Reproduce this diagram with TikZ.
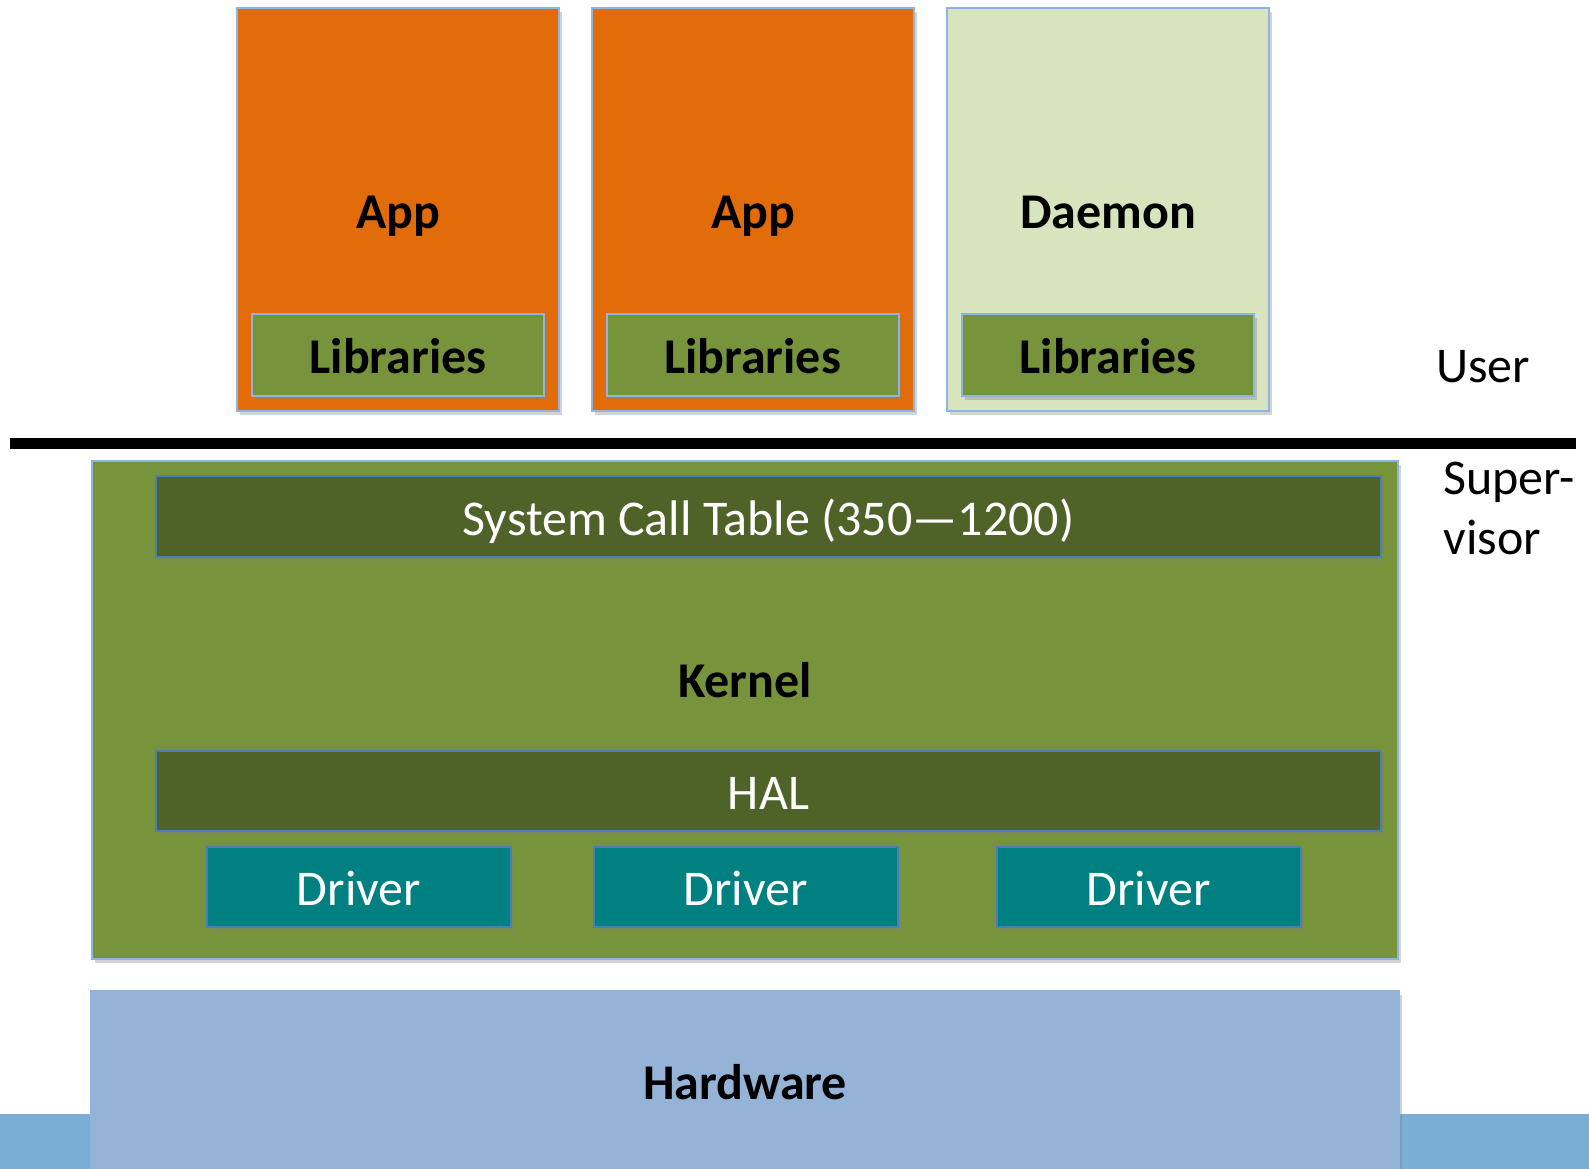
\documentclass[tikz,border=0pt]{standalone}
\usepackage{fontspec}
\setmainfont{Carlito}
\usepackage{tikz}
\usetikzlibrary{shapes,arrows,positioning,shadows}
\definecolor{dorange}{RGB}{227, 108, 10}
\definecolor{lolive}{RGB}{215, 228, 189}
\definecolor{mgreen}{RGB}{119, 147, 60}
\definecolor{dgreen}{RGB}{79, 98, 40}
\definecolor{dteal}{RGB}{0, 128, 128}
\definecolor{lhw}{RGB}{149, 179, 215}
\definecolor{dstrip}{RGB}{123, 174, 212}
\definecolor{lborder}{RGB}{142, 180, 227}
\definecolor{dborder}{RGB}{74, 126, 187}
\tikzstyle{box} = [rectangle, draw=lborder, line width=1pt, inner sep=0pt,
  text height=18.5pt, text depth=0pt,
  drop shadow={shadow xshift=1.5pt, shadow yshift=-2pt, opacity=0.35},
  font=\fontsize{25}{30}\selectfont\bfseries]
\tikzstyle{app} = [box, fill=dorange, minimum width=161pt, minimum height=201.5pt]
\tikzstyle{lib} = [box, fill=mgreen, minimum width=146pt, minimum height=41pt]
\tikzstyle{bar} = [box, draw=dborder, fill=dgreen, text=white, minimum width=612.5pt,
  minimum height=40.5pt, font=\fontsize{25}{30}\selectfont]
\tikzstyle{drv} = [bar, fill=dteal, minimum width=152pt, minimum height=40pt]
\tikzstyle{lbl} = [inner sep=0pt, font=\fontsize{25}{30}\selectfont]

\begin{document}
\begin{tikzpicture}[x=0.5pt, y=-0.5pt]
  \useasboundingbox (0,0) rectangle (1589,1168);

  % user space
  \node [app] (app1) at (398,209.5) {App};
  \node [app] (app2) at (753,209.5) {App};
  \node [app, fill=lolive] (daemon) at (1108,209.5) {Daemon};
  \node [lib] (lib1) at (398,355) {Libraries};
  \node [lib] (lib2) at (752.5,355) {Libraries};
  \node [lib] (lib3) at (1108,355) {Libraries};

  % mode boundary
  \coordinate (sepL) at (10,443);
  \coordinate (sepR) at (1576,443);
  \draw [line width=5.5pt, drop shadow={shadow xshift=1pt, shadow yshift=-1.5pt, opacity=0.3}] (sepL) -- (sepR);
  \node [lbl, anchor=center] (user) at (1483,367) {User};
  \node [lbl, anchor=west, align=left] (super) at (1443,508) {Super-\\visor};

  % kernel
  \node [box, fill=mgreen, minimum width=653pt, minimum height=249pt] (kernel) at (745,710) {};
  \node [lbl, font=\fontsize{25}{30}\selectfont\bfseries] (kernlbl) at (745,680) {Kernel};
  \node [bar] (syscall) at (768.5,516.5) {System Call Table (350—1200)};
  \node [bar, minimum height=40pt] (hal) at (768.5,791) {HAL};
  \node [drv] (drv1) at (359,887) {Driver};
  \node [drv] (drv2) at (745.5,887) {Driver};
  \node [drv] (drv3) at (1148.5,887) {Driver};

  % hardware
  \node [rectangle, fill=dstrip, minimum width=794.5pt, minimum height=30pt, inner sep=0pt] (strip) at (794.5,1144) {};
  \node [box, fill=lhw, minimum width=654pt, minimum height=94pt] (hw) at (745,1085) {};
  \node [lbl, font=\fontsize{25}{30}\selectfont\bfseries] (hwlbl) at (745,1082) {Hardware};
\end{tikzpicture}
\end{document}
